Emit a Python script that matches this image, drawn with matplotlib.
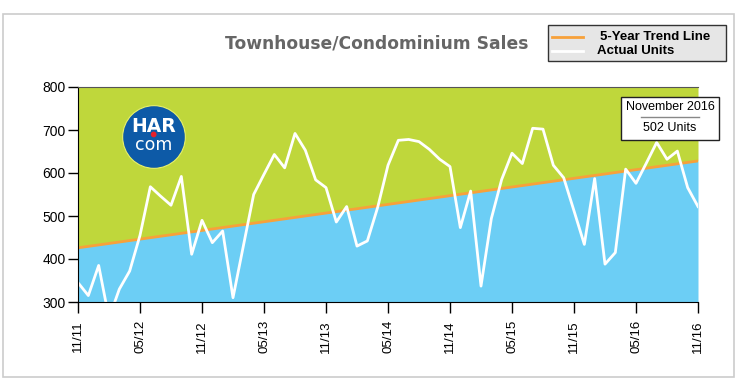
import matplotlib
matplotlib.use("Agg")
import matplotlib.pyplot as plt
from matplotlib.patches import Rectangle, Circle
from matplotlib.lines import Line2D

# monthly townhouse/condo sales, 11/11 .. 11/16
units = [345, 315, 385, 262, 330, 372, 455, 568, 546, 525, 592, 411, 490, 438, 465,
         310, 430, 550, 597, 643, 612, 692, 653, 584, 566, 486, 522, 430, 442, 520,
         618, 676, 678, 673, 655, 632, 615, 473, 558, 337, 494, 585, 646, 622, 704,
         702, 618, 589, 512, 434, 587, 388, 415, 609, 576, 623, 671, 632, 651, 566, 522]
months = list(range(len(units)))
trend_x = [0, 60]
trend_y = [426, 628]
tick_pos = list(range(0, 61, 6))
tick_labels = ["11/11", "05/12", "11/12", "05/13", "11/13", "05/14",
               "11/14", "05/15", "11/15", "05/16", "11/16"]
y_ticks = [300, 400, 500, 600, 700, 800]

W, H = 750, 378
fig = plt.figure(figsize=(7.5, 3.78), dpi=100)
plt.rcParams['font.family'] = ['Liberation Sans', 'DejaVu Sans']

def fx(px):
    return px / W

def fy(py):
    return 1 - py / H

# outer frame
fig.patches.append(Rectangle((fx(3), fy(377)), fx(731), (377 - 14) / H,
                             transform=fig.transFigure, fill=False,
                             edgecolor='#cccccc', lw=1.2))

ax = fig.add_axes([fx(78), fy(302), fx(620), (302 - 87) / H])
ax.fill_between(trend_x, [300, 300], trend_y, color='#6ccef5', lw=0)
ax.fill_between(trend_x, trend_y, [800, 800], color='#bfd73b', lw=0)
ax.plot(trend_x, trend_y, color='#f7a13a', lw=2)
ax.plot(months, units, color='white', lw=2)
ax.set_xlim(0, 60)
ax.set_ylim(300, 800)
ax.set_xticks(tick_pos)
ax.set_xticklabels(tick_labels, rotation=90, fontsize=9.5)
ax.set_yticks(y_ticks)
ax.set_yticklabels([str(v) for v in y_ticks], fontsize=10)
ax.tick_params(axis='x', length=8, width=1, pad=5)
ax.tick_params(axis='y', length=7, width=1, pad=2)
ax.spines['right'].set_visible(False)
ax.spines['top'].set_color('#555555')
ax.spines['top'].set_linewidth(0.8)

# title
fig.text(fx(377), fy(43), "Townhouse/Condominium Sales", ha='center', va='center',
         fontsize=12.3, fontweight='bold', color='#666666', family='DejaVu Sans')

# legend box
fig.patches.append(Rectangle((fx(548), fy(61)), fx(178), (61 - 25) / H,
                             transform=fig.transFigure, facecolor='#e6e6e6',
                             edgecolor='#333333', lw=1))
fig.lines.append(Line2D([fx(552), fx(583)], [fy(36.5), fy(36.5)],
                        transform=fig.transFigure, color='#f7a13a', lw=2))
fig.lines.append(Line2D([fx(552), fx(583)], [fy(51), fy(51)],
                        transform=fig.transFigure, color='white', lw=2))
fig.text(fx(600), fy(36.5), "5-Year Trend Line", ha='left', va='center',
         fontsize=9.5, fontweight='bold')
fig.text(fx(597), fy(51), "Actual Units", ha='left', va='center',
         fontsize=9.5, fontweight='bold')

# latest month call-out
fig.patches.append(Rectangle((fx(621), fy(140)), fx(98), (140 - 97) / H,
                             transform=fig.transFigure, facecolor='white',
                             edgecolor='#222222', lw=1, zorder=5))
fig.lines.append(Line2D([fx(641), fx(699)], [fy(117), fy(117)],
                        transform=fig.transFigure, color='#888888', lw=1, zorder=6))
fig.text(fx(670), fy(106.5), "November 2016", ha='center', va='center',
         fontsize=9, zorder=6)
fig.text(fx(670), fy(128), "502 Units", ha='center', va='center',
         fontsize=9, zorder=6)

# HAR.com logo
lax = fig.add_axes([fx(154 - 32), fy(137 + 32), fx(64), 64 / H])
lax.set_xlim(0, 1)
lax.set_ylim(0, 1)
lax.axis('off')
lax.add_patch(Circle((0.5, 0.5), 0.49, facecolor='#0d5aa7', edgecolor='#e8f06a', lw=0.8))
lax.text(0.5, 0.66, "HAR", ha='center', va='center', color='white',
         fontsize=13.5, fontweight='heavy', family='DejaVu Sans')
lax.text(0.5, 0.37, "com", ha='center', va='center', color='white',
         fontsize=12.5, family='DejaVu Sans')
lax.add_patch(Circle((0.495, 0.54), 0.045, facecolor='#e8202a', lw=0))

fig.savefig("out.png", dpi=100)
